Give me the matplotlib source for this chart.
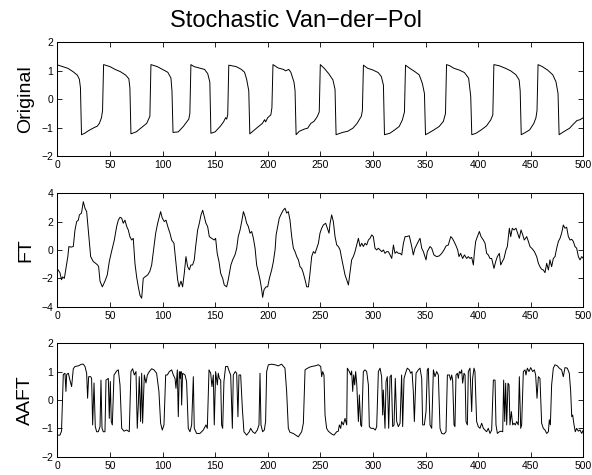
import matplotlib
matplotlib.use("Agg")
import matplotlib.pyplot as plt

plt.rcParams['font.family'] = ['Liberation Sans', 'DejaVu Sans']

# valores (tempo, amplitude)
orig_t = [0, 5, 10, 15, 19, 21, 22, 23, 26, 30, 35, 38, 40, 42, 43, 44,
          50, 55, 60, 65, 68, 69, 70, 75, 80, 85, 88, 89,
          95, 100, 105, 108, 109, 110, 115, 120, 125, 126, 127,
          130, 135, 140, 143, 145, 146, 150, 155, 158, 160, 161, 162, 163,
          170, 175, 178, 180, 182, 183, 190, 195, 197, 198, 200, 203, 204, 205,
          210, 215, 217, 220, 222, 225, 226, 227, 230, 235, 238, 241, 244, 247, 249, 250,
          254, 258, 262, 264, 265, 271, 276, 281, 285, 289, 290, 291,
          295, 300, 305, 308, 310, 311, 316, 320, 325, 328, 330, 331,
          335, 340, 344, 347, 349, 350, 354, 358, 363, 367, 369, 370,
          373, 377, 382, 387, 391, 393, 394, 398, 403, 408, 412, 414, 415,
          420, 426, 431, 436, 439, 440, 441, 445, 449, 453, 455, 456, 457,
          461, 466, 471, 474, 476, 477, 482, 487, 490, 494, 497, 500]
orig_y = [1.21, 1.15, 1.09, 0.97, 0.85, 0.7, 0.4, -1.25, -1.2, -1.1, -1.0, -0.95, -0.85, -0.65, -0.4, 1.22,
          1.15, 1.05, 0.97, 0.85, 0.72, 0.4, -1.22, -1.15, -1.0, -0.85, -0.6, 1.22,
          1.15, 1.05, 0.95, 0.75, 0.3, -1.17, -1.15, -0.95, -0.7, -0.5, 1.22,
          1.15, 1.1, 1.05, 0.9, 0.6, -1.2, -1.15, -0.95, -0.8, -0.65, -0.7, -0.55, 1.2,
          1.15, 1.05, 0.95, 0.7, 0.3, -1.22, -1.0, -0.85, -0.72, -0.8, -0.65, -0.55, -0.3, 1.22,
          1.1, 1.05, 1.0, 1.05, 0.95, 0.6, 0.3, -1.25, -1.13, -1.05, -1.02, -0.85, -0.78, -0.62, -0.45, 1.22,
          1.08, 0.9, 0.68, 0.35, -1.25, -1.17, -1.13, -1.02, -0.85, -0.6, -0.4, 1.2,
          1.09, 1.03, 0.94, 0.8, 0.5, -1.25, -1.2, -1.1, -0.96, -0.73, -0.45, 1.2,
          1.09, 0.97, 0.86, 0.56, 0.2, -1.25, -1.17, -1.08, -0.96, -0.78, -0.5, 1.22,
          1.18, 1.09, 1.03, 0.94, 0.74, 0.1, -1.25, -1.2, -1.08, -0.94, -0.73, -0.55, 1.22,
          1.18, 1.09, 1.0, 0.86, 0.68, 0.3, -1.25, -1.17, -1.08, -0.85, -0.65, -0.4, 1.22,
          1.15, 1.03, 0.86, 0.62, 0.2, -1.25, -1.13, -1.02, -0.9, -0.75, -0.72, -0.65]

ft_t = [0.3, 2.5, 4, 5, 6.7, 8, 10, 11, 13, 15.2, 16.8, 18.4, 20, 21, 23, 24.7, 26.3, 27.9, 29.5,
        31.7, 34.2, 36.4, 38.3, 39.3, 40.6, 42.8, 45.3, 47.5, 49.4, 51.6, 54.2, 56.4, 58, 59.6,
        61.2, 62.7, 64.3, 66, 67.5, 69, 70.7, 72.2, 73.8, 75.4, 77, 78.6, 80.2, 81.7, 83.3, 85.9,
        88, 89.7, 91.9, 93.5, 95.4, 97, 98.2, 99.8, 101.7, 103.3, 105.5, 107.1, 108.7, 110.9,
        112.5, 114.4, 115.7, 117.6, 119.1, 120.7, 122.3, 123.9, 125.5, 127, 128.6, 130.2, 131.5,
        133.4, 135, 136.6, 138.2, 139.7, 141.3, 142.9, 144.5, 146.7, 149.2, 150.5, 152, 153.7,
        155.3, 157.2, 158.7, 161, 162.5, 165, 166.7, 168.9,
        170.5, 172, 173.7, 175.3, 176.9, 178.5, 180, 181.6, 183.2, 184.8, 186.4, 188, 189.5, 191,
        192.7, 194.3, 195.2, 196.5, 198.4, 200, 201.6, 202.9, 203.8, 205.4, 207, 208, 209.5, 211,
        213.3, 214.9, 216.5, 218, 219.6, 221.2, 222.8, 224.4, 226, 227.6, 229.2, 230.7, 232.3,
        233.9, 235.5, 237.1, 238.7, 240.2, 241.8, 243.4, 245, 246.6, 248.2, 249.7, 251.3, 252.9,
        255.1, 256.7, 258.3, 259.3, 260.8, 262.4, 264, 265.6, 267.2, 268.8, 270.3, 271.9, 273.5,
        275.1, 276.7, 278.3, 279.8, 281.4, 283, 284.6, 286.2, 287.8, 289.4, 290.9, 292.5, 294.1,
        295.7, 297.3, 298.9, 300.4, 302, 303.6, 305.2, 306.8, 308.4, 310, 311.5, 313.1, 314.7,
        316.3, 317.9, 319.5, 321, 322.6, 324.2, 325.8, 327.4, 329, 330.6, 332.2,
        334.6, 336.9, 338.4, 340, 343.2, 344.8, 346.4, 348, 350.5, 351.7, 354.3, 355.9, 358,
        360.6, 363.1, 365.4, 367.6, 369.5, 371.7, 374, 375.5, 377.1, 378.7, 380.6, 381.8, 383.4,
        385.3, 387, 389.1, 390.7, 392.3, 393.9, 395.5, 396.4, 397.7, 399.3, 401.2, 402.8, 405,
        406.6, 408.1, 409.7, 411.3, 412.9, 415.1, 416.7, 418.3, 420.2, 421.5, 423, 424.6, 426.5,
        427.8, 429.7, 431, 432.5, 434.1, 436, 437.6, 439.2, 440.8, 442.4, 443.9, 446.2, 447.8,
        449.3, 451.6, 453.5, 455.7, 457.3, 458.8, 460.4, 462, 463.6, 465.2, 466.8, 468.3, 469.9,
        471.5, 473.1, 474.7, 476.3, 477.9, 479.4, 481, 482.6, 484.2, 485.8, 487.4, 489, 490.5,
        492.1, 493.7, 495.3, 496.9, 498.5, 500]
ft_y = [-1.36, -1.6, -2.1, -1.9, -2.0, -1.4, -0.47, 0.24, 0.2, 0.24, 1.4, 2.0, 2.1, 2.47, 2.6, 3.4, 2.94, 2.7, 1.4,
        -0.47, -0.82, -0.94, -1.06, -1.18, -2.2, -2.6, -2.2, -1.76, -0.82, -0.1, 0.7, 1.65, 2.1, 2.3,
        2.24, 1.88, 2.1, 1.65, 1.4, 0.94, 0.7, 0.82, -0.94, -1.9, -2.6, -3.2, -3.4, -2.0, -1.9, -1.76,
        -1.5, -1.06, 0.24, 1.18, 1.88, 2.35, 2.7, 2.24, 2.0, 2.1, 1.53, 1.18, 0.7, 0.47,
        -0.7, -2.1, -2.6, -2.2, -2.6, -1.65, -0.47, -1.18, -1.4, -1.06, -1.06, -0.7, 0.24,
        1.4, 1.88, 2.47, 2.8, 2.35, 1.88, 1.65, 0.94, 0.82, 0.7, 0.82, -0.24, -0.82,
        -1.65, -2.0, -2.47, -2.6, -2.1, -1.06, -0.7, -0.35,
        0.1, 0.94, 1.4, 2.0, 2.7, 2.35, 1.88, 1.65, 1.18, 1.3, 0.82, 0.12, -1.06, -1.53,
        -2.1, -2.8, -3.34, -2.8, -2.6, -2.6, -2.0, -1.65, -1.4, -0.82, 0.0, 1.06, 1.65, 2.24,
        2.6, 2.82, 2.94, 2.6, 2.7, 2.1, 0.94, 0.12, -0.12, -0.47, -0.7, -1.18, -1.3,
        -1.65, -2.1, -2.6, -2.6, -1.65, -0.47, -0.12, -0.24, 0.12, 0.47, 1.18, 1.53, 1.76,
        1.88, 1.53, 1.18, 1.88, 2.47, 2.0, 0.94, 0.35, 0.24, 0.0, -0.6, -1.18, -1.76,
        -2.1, -2.47, -1.53, -0.7, -0.47, -0.12, 0.35, 0.82, 0.24, 0.47, 0.24, 0.47, 0.35,
        0.7, 0.82, 1.06, 0.94, 0.12, 0.0, 0.12, 0.0, -0.12, 0.0, -0.24, -0.12, -0.12,
        -0.35, -0.6, 0.35, -0.24, -0.12, -0.24, -0.24, -0.35, 0.47, 0.94, 0.94,
        1.0, 0.24, -0.35, 0.12, 0.6, 0.82, 0.12, -0.12, -0.7, -0.12, 0.24, 0.12, -0.35,
        -0.47, -0.42, -0.24, 0.0, 0.28, 0.35, 0.94, 0.82, 0.6, 0.35, 0.0, -0.47, -0.24,
        -0.6, -0.35, -0.6, -0.47, -0.6, -0.52, -1.06, -0.24, 0.6, 0.94, 1.3, 0.94, 0.7,
        0.47, -0.24, -0.35, -0.6, -0.6, -1.3, -0.82, -0.47, -0.24, -1.06, -0.82, -0.6, 0.0,
        0.24, 1.53, 0.94, 1.53, 1.41, 1.53, 1.18, 0.82, 1.41, 1.06, 0.7, 0.94, 0.6,
        0.24, 0.07, -0.12, -0.47, -0.94, -1.18, -1.36, -1.41, -1.6, -0.94, -1.41, -0.7, -1.18,
        -0.6, -0.47, 0.12, 0.6, 0.82, 1.18, 1.76, 1.53, 1.6, 0.94, 0.7, 0.75, 0.6,
        0.24, 0.12, -0.47, -0.7, -0.47, -0.6]

aaft_t = [0, 2.5, 4, 5.7, 7.3, 8.2, 8.9, 10.5, 12, 13.6, 15.2, 16.8, 20, 23, 24.7, 26.3, 27.9,
          28.8, 29.8, 31.7, 32.6, 33.6, 34.9, 36.1, 37.4, 39, 40.6, 41.5, 42.5, 43.7, 45.3, 46.3,
          48.5, 49.4, 50.4, 51.3, 52.3, 53.9, 56.4, 58, 59.6, 61.2, 63.4, 65.9, 68.4, 70, 71.6,
          73.2, 74.8, 76, 77, 77.9, 79.2, 80.2, 81.1, 82.7, 84.3, 85.6, 87.5, 89.7, 91.9, 94.4,
          96.6, 98.2, 99.8, 101.4, 103, 104.6, 106.5, 108.7, 110.3, 111.9, 112.8, 114.1, 115, 116,
          116.9, 117.6, 118.2, 119.1, 121.4, 122.9, 124.5, 126.1, 127.7, 129.3, 130.2, 132.4,
          135.6, 138.8, 141.3, 142.6, 144.2, 145.8, 147, 148.3, 149.2, 150.5, 152.1, 153, 154,
          155.3, 156.2, 157.2, 158.4, 160, 161.9, 163.5, 164.8, 166.4, 167.3, 169.2, 170.5, 171.7,
          172.7, 174.3, 175.9, 177.4, 180, 182.5, 183.8, 185.7, 187.9, 190.1, 191.7, 192.7, 193.6,
          195.2, 196.8, 198, 199, 200.6, 203.7, 206.9, 210, 213.2, 216.4, 218, 219.6, 221.2, 224.3,
          227.5, 229.1, 232.3, 233.9, 235.5, 237, 239.6, 241.8, 245, 248.1, 250.4, 251.3, 252.3,
          253.5, 254.5, 256, 257.6, 260.8, 263, 265.6, 267.1, 268.1, 269.4, 270.3, 271.9, 273.5,
          275.1, 275.7, 277.6, 278.9, 279.8, 280.8, 281.7, 282.7, 283.6, 284.6, 286.2, 287.1,
          288.4, 289.3, 290.9, 292.5, 294.1, 295.7, 296.6, 298.2, 300.4, 302.3, 303.6, 305.2,
          306.8, 308.3, 309.3, 309.9, 311.5, 312.5, 313.7, 315, 316.3, 317.5, 318.8, 320.1, 321.3,
          322.6, 324.2, 325.8, 327.3, 328.3, 329.6, 331.5, 332.7, 334.6, 335.9, 337.2, 338.4,
          339.4, 341, 343.2, 344.8, 346.4, 347.3, 348.9, 350.5, 351.7, 352.7, 354.3, 355.9, 357.5,
          359, 360.6, 362.2, 363.8, 365.4, 367.6, 369.5, 370.8, 372.7, 373.9, 374.9, 375.8, 377.1,
          378, 379, 380.3, 381.2, 382.2, 383.4, 384.4, 385.3, 386.6, 387.6, 388.5, 389.8, 390.7,
          392.3, 393.9, 394.8, 396.1, 397, 398.6, 400.2, 401.8, 403.4, 405, 406.6, 408.1, 409.7,
          411.3, 412.9, 414.5, 416.1, 417, 418.3, 420.2, 421.8, 423.4, 424.3, 425.3, 426.2, 427.2,
          428.4, 429.4, 430.3, 431.6, 432.9, 434.1, 435.4, 436.7, 438.2, 439.2, 440.5, 441.4, 443,
          444.6, 445.5, 446.8, 448.4, 450, 451.9, 453.5, 454.7, 456, 457.3, 458.8, 460.4, 462,
          463.6, 465.2, 466.8, 467.7, 468.7, 469.9, 471.5, 473.1, 475.3, 477.2, 479.4, 481, 482.6,
          484.8, 486.7, 488, 489, 489.9, 491.2, 492.4, 493.7, 495.3, 496.9, 498.5, 500]
aaft_y = [-1.24, -1.24, -1.1, 0.9, 0.94, 0.3, 0.9, 0.94, 0.7, 0.47, 1.1, 1.18, 1.2, 1.26, 1.26, 1.18, 0.94,
          0.06, 0.82, 0.82, 0.76, -0.88, 0.6, -0.94, -1.12, -1.12, -0.94, 0.7, -1.0, -1.12, -1.12, 0.7,
          0.76, -0.65, 0.65, -0.76, -0.88, 0.88, 1.02, 1.06, 0.53, -1.0, -1.1, -1.06, -1.12, 1.0, 1.1,
          0.88, 1.0, -1.0, -0.18, 0.82, -0.76, 0.94, -0.82, 0.88, 0.6, 0.88, 1.0, 1.1, 1.06, 0.94,
          0.3, -0.82, -1.06, -0.88, 0.88, 0.88, 1.0, 1.06, 0.88, 0.76, 0.41, 1.06, -0.59, 1.0,
          0.76, 1.0, -0.18, 0.94, 0.88, 0.65, -1.0, -1.12, -0.88, 0.82, -1.0, -1.18,
          -1.18, -1.06, -0.88, -1.0, 1.06, 0.94, 0.47, 0.88, -0.88, 1.0, 0.53, 0.94, 0.76,
          0.7, -0.88, -1.0, 0.65, 1.18, 1.18, 1.0, 0.88, -1.0, 0.88, 1.0, 0.94, -0.59,
          0.88, 0.88, -0.3, -1.12, -1.24, -1.12, -1.0, -1.12, -1.18, -1.06, -0.88, 0.94, -0.88,
          -1.12, -1.06, -0.76, 1.0, 1.24, 1.26, 1.24, 1.2, 1.26, 1.12, 0.3, -1.0, -1.14, -1.18,
          -1.26, -1.3, -1.12, -0.82, 1.06, 1.1, 1.15, 1.18, 1.2, 1.24, 1.18, 0.82, 1.0,
          0.88, -0.53, -1.0, -1.1, -1.2, -1.24, -1.12, -1.1, -0.88, -1.0, -0.76, -0.88, -0.65,
          -0.88, 1.12, 1.0, 0.88, 1.02, 0.3, 0.88, 0.53, 1.0, 0.59, -0.76, 0.18,
          -0.88, -0.94, 1.0, 1.06, 1.0, 0.53, -0.94, -1.0, -1.0, -1.06, -0.94, 1.0,
          1.12, 0.82, -0.53, 0.35, -1.0, 0.65, 0.82, -1.0, 0.82, 0.88, -0.94, -0.88, 0.76,
          -0.76, -0.94, -0.82, 0.88, -0.94, 0.76, 1.0, 1.12, 1.06, 0.94, 1.0, 0.3,
          -0.76, 0.94, 1.06, 1.12, 0.76, -0.88, -0.88, -0.41, 1.06, 1.12, -0.88, -1.0, 1.06,
          0.82, 1.0, 0.88, -1.0, -1.18, -1.2, -1.12, 0.88, 0.88, 0.7, 0.88, 0.7, -0.88,
          -0.94, 0.88, 0.94, 0.76, 1.0, 0.94, 1.06, 0.59, 0.94, 0.88, -0.76, -0.88, 1.0,
          1.12, -0.41, 0.76, 1.12, 1.0, -0.76, -0.94, -1.0, -0.82, -1.0, -1.06, -1.12, -1.0,
          -1.18, -1.06, 0.7, 0.7, -0.88, -1.18, -1.12, -1.1, -1.12, 0.7, -0.76, 0.59, -0.88,
          0.59, 0.53, -0.88, -0.41, -0.88, -0.82, -0.88, -0.76, -0.88, 0.82, -1.0, -0.88, 1.0,
          1.06, 0.88, 1.12, 1.0, 1.14, 1.0, 1.06, 0.88, 0.06, 0.82, 0.76, -0.82, -1.0,
          -1.06, -1.18, -1.12, -0.7, -0.88, 0.53, 1.12, 1.24, 1.2, 1.12, 1.06, 0.82, 1.14,
          1.12, 0.94, 0.3, -0.59, -0.53, -0.88, -1.12, -1.0, -1.1, -1.06, -1.18, -1.06]

x_ticks = list(range(0, 501, 50))
panels = [
    ("Original", orig_t, orig_y, (-2, 2), [-2, -1, 0, 1, 2]),
    ("FT", ft_t, ft_y, (-4, 4), [-4, -2, 0, 2, 4]),
    ("AAFT", aaft_t, aaft_y, (-2, 2), [-2, -1, 0, 1, 2]),
]

fig = plt.figure(figsize=(5.92, 4.75), dpi=100)
bottoms = [0.6716, 0.3543, 0.0385]

for (label, t, y, ylim, yticks), b in zip(panels, bottoms):
    ax = fig.add_axes([0.0968, b, 0.8885, 0.239])
    ax.plot(t, y, color='k', lw=0.7)
    ax.set_xlim(0, 500)
    ax.set_ylim(*ylim)
    ax.set_xticks(x_ticks)
    ax.set_yticks(yticks)
    ax.tick_params(direction='in', top=True, right=True, labelsize=7.5,
                   length=3.5, width=0.6, pad=3)
    for sp in ax.spines.values():
        sp.set_linewidth(0.75)
    ax.set_ylabel(label, fontsize=14)
    ax.yaxis.set_label_coords(-0.044, 0.5)

fig.text(0.5, 0.956, "Stochastic Van\u2212der\u2212Pol", ha='center', va='center', fontsize=17)

fig.savefig("out.png", dpi=100)
